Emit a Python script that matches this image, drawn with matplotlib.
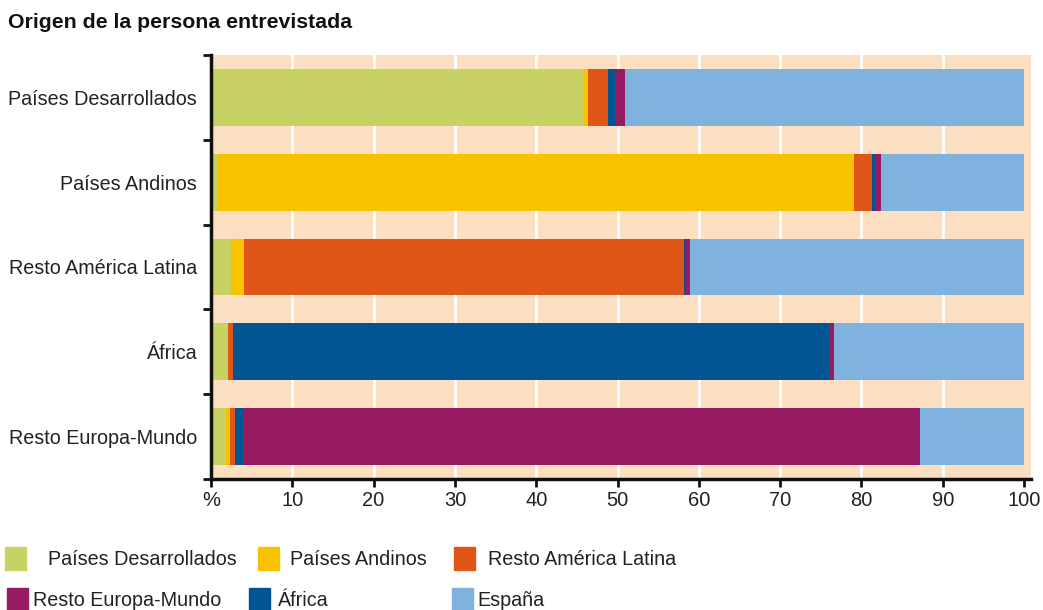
import matplotlib
matplotlib.use("Agg")
import matplotlib.pyplot as plt
from matplotlib.patches import Rectangle
import numpy as np

plt.rcParams['font.family'] = ['Liberation Sans', 'DejaVu Sans']

title = "Origen de la persona entrevistada"
categories = ["Países Desarrollados", "Países Andinos", "Resto América Latina",
              "África", "Resto Europa-Mundo"]

# stacked segments, in drawing order (left to right)
series_names = ["Países Desarrollados", "Países Andinos", "Resto América Latina",
                "África", "Resto Europa-Mundo", "España"]
paises_desarrollados = [45.9, 0.7, 2.5, 2.05, 1.8]
paises_andinos       = [0.5, 78.4, 1.6, 0.0, 0.5]
resto_america_latina = [2.4, 2.2, 54.1, 0.65, 0.7]
africa               = [0.9, 0.4, 0.25, 73.3, 0.9]
resto_europa_mundo   = [1.2, 0.7, 0.5, 0.6, 83.3]
espana               = [49.1, 17.6, 41.1, 23.4, 12.8]

colors = {
    "Países Desarrollados": "#C8D164",
    "Países Andinos": "#F7C300",
    "Resto América Latina": "#E05518",
    "África": "#005592",
    "Resto Europa-Mundo": "#961B62",
    "España": "#80B2E0",
}
series_values = [paises_desarrollados, paises_andinos, resto_america_latina,
                 africa, resto_europa_mundo, espana]

xticks = [0, 10, 20, 30, 40, 50, 60, 70, 80, 90, 100]
xtick_labels = ["%", "10", "20", "30", "40", "50", "60", "70", "80", "90", "100"]

legend_rows = [["Países Desarrollados", "Países Andinos", "Resto América Latina"],
               ["Resto Europa-Mundo", "África", "España"]]

W, H = 1043, 610
fig = plt.figure(figsize=(W / 100, H / 100), dpi=100)
ax = fig.add_axes([211 / W, 1 - 479 / H, (1031 - 211) / W, (479 - 55) / H])
ax.set_facecolor("#FCDFC0")

for xv in xticks[1:-1]:
    ax.axvline(xv, color="white", linewidth=2, zorder=1)

y = np.arange(len(categories))
left = np.zeros(len(categories))
for name, vals in zip(series_names, series_values):
    vals = np.array(vals)
    ax.barh(y, vals, left=left, height=0.67, color=colors[name], linewidth=0, zorder=2)
    left += vals

ax.set_xlim(0, 100.86)
ax.set_ylim(len(categories) - 0.5, -0.5)
ax.set_xticks(xticks)
ax.set_xticklabels(xtick_labels, fontsize=14.5, color="#222222")
ax.set_yticks(y)
ax.set_yticklabels(categories, fontsize=14.2, color="#222222")
ax.set_yticks(np.arange(-0.5, len(categories), 1.0), minor=True)
ax.tick_params(axis="y", which="major", length=0, pad=10)
ax.tick_params(axis="y", which="minor", length=6, width=2, direction="out", color="#111111")
ax.tick_params(axis="x", which="major", length=6, width=2, direction="out", color="#111111", pad=3)
for s in ["top", "right"]:
    ax.spines[s].set_visible(False)
for s in ["left", "bottom"]:
    ax.spines[s].set_linewidth(2.5)
    ax.spines[s].set_color("#111111")
    ax.spines[s].set_zorder(3)

fig.text(8 / W, 1 - 22 / H, title, fontsize=15.3, fontweight="bold", va="center", ha="left",
         color="#111111")

# legend (manual layout)
sq_x = [[5, 258, 454], [7, 249, 452]]
tx_x = [[48, 290, 488], [33, 278, 477]]
row_y = [[547, 570], [588, 610]]
for r, row in enumerate(legend_rows):
    y0, y1 = row_y[r]
    for c, name in enumerate(row):
        fig.patches.append(Rectangle((sq_x[r][c] / W, 1 - y1 / H), 21 / W, (y1 - y0) / H,
                                     transform=fig.transFigure, color=colors[name]))
        fig.text(tx_x[r][c] / W, 1 - ((y0 + y1) / 2 + 1) / H, name, fontsize=14.2,
                 va="center", ha="left", color="#222222")

fig.savefig("out.png", dpi=100)
